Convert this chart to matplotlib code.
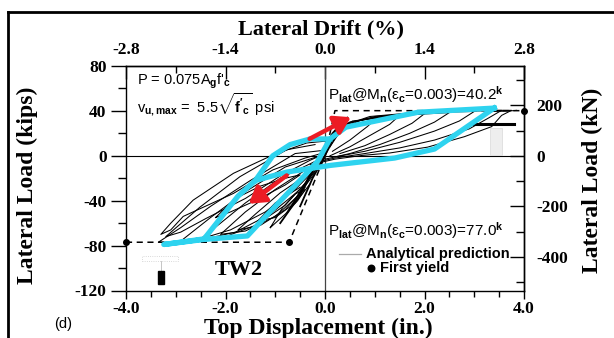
import numpy as np
import matplotlib
matplotlib.use("Agg")
import matplotlib.pyplot as plt
from matplotlib.lines import Line2D
from matplotlib.patches import Rectangle
from matplotlib.ticker import FormatStrFormatter

SERIF = "Liberation Serif"
SANS = "Liberation Sans"
plt.rcParams["font.family"] = [SERIF, "DejaVu Serif"]
plt.rcParams["font.weight"] = "bold"
plt.rcParams["axes.unicode_minus"] = False
plt.rcParams["mathtext.fontset"] = "custom"
plt.rcParams["mathtext.rm"] = SANS
plt.rcParams["mathtext.it"] = SANS + ":italic"
plt.rcParams["mathtext.bf"] = SANS + ":bold"

# ---------------- data (displacement in., load kips) ----------------
DRIFT_PER_IN = 2.8 / 4.0      # % drift per inch of top displacement
KN_PER_KIP = 4.448

disp_ticks = [-4.0, -2.0, 0.0, 2.0, 4.0]
disp_minor = [-3.5, -3.0, -2.5, -1.5, -1.0, -0.5, 0.5, 1.0, 1.5, 2.5, 3.0, 3.5]
load_ticks = [-120, -80, -40, 0, 40, 80]
load_minor = [-100, -60, -20, 20, 60]
drift_ticks = [-2.8, -1.4, 0.0, 1.4, 2.8]
drift_minor = [-2.1, -0.7, 0.7, 2.1]
kn_ticks = [-400, -200, 0, 200]
kn_minor = [-500, -300, -100, 100, 300]

# measured hysteresis loops, negative direction
neg_loop_1 = [(0.0, 13), (-0.37, 11.4), (-1.04, 0.9), (-1.84, -15.6), (-2.65, -39.5), (-3.1, -60), (-3.3, -70),
              (-3.1, -66), (-2.85, -54), (-1.84, -33.5), (-1.05, -12.6), (-0.4, -2), (0.0, 3)]
neg_loop_2 = [(-0.2, 10), (-0.77, 5.4), (-1.71, -18.6), (-2.51, -45.6), (-2.98, -63.5), (-3.2, -72),
              (-2.9, -68), (-2.4, -56), (-1.6, -38), (-0.9, -18), (-0.3, -4), (0.0, 2)]
neg_loop_3 = [(0.0, 5), (-0.6, 2), (-1.5, -22), (-2.3, -45), (-2.9, -64), (-3.35, -77),
              (-3.0, -77), (-2.5, -74), (-1.9, -66), (-1.2, -50), (-0.6, -30), (-0.2, -12), (0.0, -2)]
neg_loop_4 = [(-0.1, 0), (-0.8, -10), (-1.6, -32), (-2.3, -55), (-2.9, -76),
              (-2.4, -74), (-1.8, -68), (-1.1, -52), (-0.5, -30), (-0.1, -8)]
neg_loop_5 = [(-0.2, -5), (-0.9, -20), (-1.6, -42), (-2.1, -60), (-2.5, -74),
              (-2.0, -72), (-1.4, -62), (-0.8, -44), (-0.35, -22), (-0.1, -8)]
neg_loop_6 = [(-0.3, -10), (-1.0, -30), (-1.6, -50), (-2.1, -70),
              (-1.6, -67), (-1.0, -54), (-0.55, -36), (-0.2, -15)]
neg_loop_7 = [(-0.4, -18), (-0.9, -33), (-1.4, -52), (-1.75, -66),
              (-1.3, -62), (-0.8, -48), (-0.4, -28)]
neg_loop_8 = [(-0.5, -28), (-1.0, -42), (-1.35, -58), (-1.0, -55), (-0.6, -42), (-0.3, -25)]
neg_loop_9 = [(-2.2, -55), (-1.8, -38), (-1.3, -27), (-0.8, -20), (-0.5, -17),
              (-0.8, -26), (-1.4, -40), (-1.9, -50), (-2.2, -55)]
neg_loop_10 = [(-1.1, -64), (-0.8, -52), (-0.55, -40), (-0.4, -30), (-0.6, -34), (-0.85, -46), (-1.1, -64)]
center_1 = [(-0.75, -50), (-0.4, -25), (-0.1, 0), (0.15, 20), (0.4, 32)]
center_2 = [(-0.5, -45), (-0.25, -20), (0.0, 0), (0.2, 22), (0.45, 34)]
center_3 = [(-0.9, -60), (-0.5, -35), (-0.2, -10), (0.1, 12), (0.3, 28)]

# measured hysteresis loops, positive direction
pos_loop_1 = [(-0.3, -12), (0.0, 0), (0.3, 24), (0.8, 33), (1.6, 37.5), (2.6, 39.5), (3.3, 40.5), (3.75, 40.5),
              (3.55, 36), (3.35, 26), (2.8, 17), (2.06, 7.7), (1.3, 2.5), (0.74, 0.3), (0.2, -3), (-0.3, -8)]
pos_loop_2 = [(0.0, 2), (0.3, 26), (0.9, 35), (1.8, 38.5), (3.0, 40), (3.55, 40.5),
              (3.3, 34), (2.9, 24), (2.2, 14), (1.5, 7), (0.8, 2), (0.2, -2), (-0.2, -6)]
pos_loop_3 = [(0.1, 8), (0.4, 28), (1.0, 35), (2.0, 38.5), (3.0, 39.5),
              (2.7, 31), (2.2, 22), (1.5, 12), (0.8, 4), (0.2, -1)]
pos_loop_4 = [(0.1, 10), (0.45, 29), (1.1, 35), (2.5, 38.5),
              (2.2, 30), (1.7, 20), (1.1, 10), (0.5, 2), (0.0, -3)]
pos_loop_5 = [(0.15, 14), (0.5, 30), (1.2, 35.5), (2.0, 37.5),
              (1.75, 29), (1.3, 19), (0.8, 9), (0.3, 2)]
pos_loop_6 = [(0.2, 18), (0.55, 31), (1.5, 36), (1.3, 28), (0.9, 18), (0.5, 8), (0.1, 0)]
pos_loop_7 = [(0.2, 20), (0.5, 30), (1.05, 34), (0.85, 26), (0.5, 14), (0.15, 4)]
tip_line = [(3.3, 39.5), (3.68, 39.8), (3.85, 40.5)]
residual_line = [(3.0, 28), (3.8, 28)]

# highlighted (cyan) cycles
cyan_main_x = [3.4, 2.2, 1.4, 0.1, -0.77, -1.4, -1.75, -2.43, -3.24, -2.43, -1.56, -1.3, -0.47, -0.15, 0.1, 0.42, 1.87, 3.4]
cyan_main_y = [42.5, 6, -2, -8.6, -14.5, -22, -36, -74, -79, -74.5, -71.4, -59, -20.4, -5, 15, 25.5, 38.8, 42.5]
cyan_branch_x = [-1.4, -1.05, -0.7, -0.3, 0.1]
cyan_branch_y = [-22, 0, 10, 15, 15]

# loading-direction arrows (tail, head)
arrow_up = [(-0.31, 15.1), (0.52, 34.4)]
arrow_down = [(-0.77, -17.5), (-1.53, -42.7)]

# analytical prediction and first yield
analytic_neg_x = [-4.0, -0.72, 0.0]
analytic_neg_y = [-77.0, -77.0, 0.0]
analytic_pos_x = [0.0, 0.2, 4.0]
analytic_pos_y = [0.0, 40.2, 40.2]
yield_x = [-4.0, -0.72, 4.0]
yield_y = [-77.0, -77.0, 40.2]

# ---------------- figure ----------------
fig = plt.figure(figsize=(6.14, 3.38), dpi=100)
ax = fig.add_axes([126 / 614, 1 - 290.5 / 338, 398 / 614, 224.5 / 338])
ax.set_xlim(-4, 4)
ax.set_ylim(-120, 80)

ax.axhline(0, color="black", lw=0.8, zorder=1)
ax.axvline(0, color="#444444", lw=0.9, zorder=1)

# faint artefacts of the original scan
ax.add_patch(Rectangle((3.32, 1), 0.23, 24, facecolor="#eeeeee", edgecolor="#dddddd", lw=0.6, zorder=1))
ax.add_patch(Rectangle((-3.67, -93.5), 0.71, 4.5, facecolor="white", edgecolor="#cccccc", lw=0.6, ls=":", zorder=1))
ax.plot([-3.3, -3.3], [-93.5, -102.5], color="#bbbbbb", lw=0.6, zorder=1)
ax.add_patch(Rectangle((-3.36, -114), 0.12, 11.5, facecolor="black", edgecolor="black", zorder=2))

thin_loops = [neg_loop_1, neg_loop_2, neg_loop_3, neg_loop_4, neg_loop_5, neg_loop_6, neg_loop_7,
              neg_loop_8, neg_loop_9, neg_loop_10,
              pos_loop_1, pos_loop_2, pos_loop_3, pos_loop_4, pos_loop_5, pos_loop_6, pos_loop_7, tip_line]
for lp in thin_loops:
    xs, ys = zip(*lp)
    ax.plot(xs, ys, color="black", lw=0.75, zorder=2)
for lp in [center_1, center_2, center_3]:
    xs, ys = zip(*lp)
    ax.plot(xs, ys, color="black", lw=1.3, zorder=2)
xs, ys = zip(*residual_line)
ax.plot(xs, ys, color="black", lw=2.2, zorder=2)

ax.plot(analytic_neg_x, analytic_neg_y, color="black", lw=1.1, ls=(0, (4, 3)), zorder=3)
ax.plot(analytic_pos_x, analytic_pos_y, color="black", lw=1.1, ls=(0, (4, 3)), zorder=3)
ax.scatter(yield_x, yield_y, s=16, color="black", zorder=6, clip_on=False)

ax.plot(cyan_main_x, cyan_main_y, color="#2ed3ef", lw=3.8, solid_joinstyle="round", zorder=4)
ax.plot(cyan_branch_x, cyan_branch_y, color="#2ed3ef", lw=3.8, solid_joinstyle="round", zorder=4)

for tail, head in [arrow_up, arrow_down]:
    ax.annotate("", xy=head, xytext=tail,
                arrowprops=dict(arrowstyle="-|>,head_length=0.8,head_width=0.5", color="#ec1c24",
                                lw=3.2, shrinkA=0, shrinkB=0, mutation_scale=12), zorder=5)

# ---------------- axes / ticks ----------------
for s in ax.spines.values():
    s.set_linewidth(1.0)
ax.set_xticks(disp_ticks)
ax.set_xticks(disp_minor, minor=True)
ax.set_yticks(load_ticks)
ax.set_yticks(load_minor, minor=True)
ax.xaxis.set_major_formatter(FormatStrFormatter("%.1f"))
ax.tick_params(axis="x", which="major", direction="out", length=6, width=1, labelsize=12.5, pad=1.5)
ax.tick_params(axis="x", which="minor", direction="out", length=4, width=1)
ax.tick_params(axis="y", which="major", direction="out", length=11, width=1, labelsize=12.5, pad=3)
ax.tick_params(axis="y", which="minor", direction="out", length=6, width=1)

secx = ax.secondary_xaxis("top", functions=(lambda d: d * DRIFT_PER_IN, lambda p: p / DRIFT_PER_IN))
secx.set_xticks(drift_ticks)
secx.set_xticks(drift_minor, minor=True)
secx.xaxis.set_major_formatter(FormatStrFormatter("%.1f"))
secx.tick_params(axis="x", which="major", direction="in", length=9, width=1, labelsize=12.5, pad=6)
secx.tick_params(axis="x", which="minor", direction="in", length=5, width=1)
secx.spines["top"].set_linewidth(1.0)

secy = ax.secondary_yaxis("right", functions=(lambda k: k * KN_PER_KIP, lambda n: n / KN_PER_KIP))
secy.set_yticks(kn_ticks)
secy.set_yticks(kn_minor, minor=True)
secy.tick_params(axis="y", which="major", direction="in", length=10, width=1, labelsize=12.5, pad=9)
secy.tick_params(axis="y", which="minor", direction="in", length=6, width=1)
secy.spines["right"].set_linewidth(1.0)

# ---------------- labels ----------------
fig.text(321 / 614, 1 - 29 / 338, "Lateral Drift (%)", ha="center", va="center", fontsize=16, fontweight="bold")
fig.text(318 / 614, 1 - 328 / 338, "Top Displacement (in.)", ha="center", va="center", fontsize=17, fontweight="bold")
fig.text(27 / 614, 1 - 185 / 338, "Lateral Load (kips)", ha="center", va="center", rotation=90, fontsize=17, fontweight="bold")
fig.text(592 / 614, 1 - 180 / 338, "Lateral Load (kN)", ha="center", va="center", rotation=90, fontsize=17, fontweight="bold")
fig.text(63 / 614, 1 - 324 / 338, "(d)", ha="center", va="center", fontsize=10.5, fontweight="normal", family=SANS)

ax.text(-3.78, 66, r"P = 0.075A$_{\rm g}$f'$_{\rm c}$", fontsize=10.5, family=SANS, fontweight="normal", va="center", ha="left")
ax.text(-3.78, 46, r"v$_{\rm u,max}$ =  5.5$\sqrt{\rm f'_c}$ psi", fontsize=10.5, family=SANS, fontweight="normal", va="center", ha="left")
ax.text(0.07, 54.5, r"P$_{\rm lat}$@M$_{\rm n}$(ε$_{\rm c}$=0.003)=40.2$^{\rm k}$", fontsize=11,
        family=SANS, fontweight="normal", va="center", ha="left", zorder=7)
ax.text(0.07, -67, r"P$_{\rm lat}$@M$_{\rm n}$(ε$_{\rm c}$=0.003)=77.0$^{\rm k}$", fontsize=11,
        family=SANS, fontweight="normal", va="center", ha="left", zorder=7)
ax.plot([0.28, 0.72], [-87.6, -87.6], color="#aaaaaa", lw=0.9, zorder=3)
ax.text(0.82, -87.6, "Analytical prediction", fontsize=10.5, family=SANS, fontweight="bold", va="center", ha="left")
ax.scatter([0.92], [-100.4], s=22, color="black", zorder=6)
ax.text(1.1, -100.4, "First yield", fontsize=10.5, family=SANS, fontweight="bold", va="center", ha="left")
ax.text(-1.74, -101.5, "TW2", fontsize=16, fontweight="bold", va="center", ha="center")

# outer frame of the original panel
fig.add_artist(Line2D([8 / 614, 8 / 614], [0, 1 - 12 / 338], transform=fig.transFigure, color="black", lw=2))
fig.add_artist(Line2D([8 / 614, 1], [1 - 12 / 338, 1 - 12 / 338], transform=fig.transFigure, color="black", lw=2))

fig.savefig("out.png", dpi=100)
